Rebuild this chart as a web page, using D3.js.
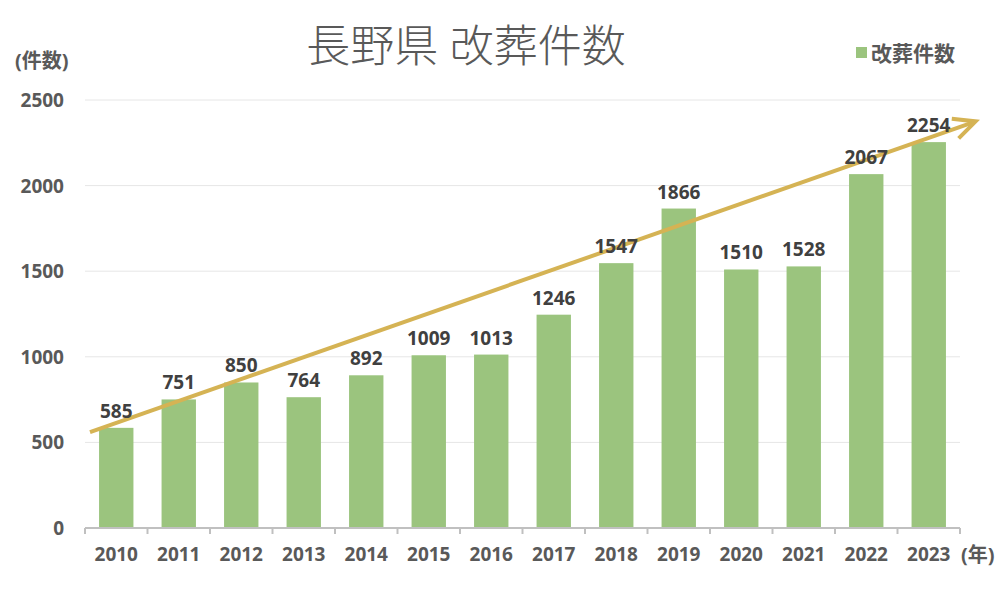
<!DOCTYPE html>
<html>
<head>
<meta charset="utf-8">
<script src="https://cdn.jsdelivr.net/npm/d3@7"></script>
<style>
  body { margin: 0; background: #fff; }
  text { font-family: "Noto Sans", "Noto Sans CJK JP", sans-serif; }
</style>
</head>
<body>
<svg id="chart" width="1000" height="600"></svg>
<script>
const years = ['2010', '2011', '2012', '2013', '2014', '2015', '2016',
               '2017', '2018', '2019', '2020', '2021', '2022', '2023'];
const counts = [585, 751, 850, 764, 892, 1009, 1013, 1246, 1547, 1866, 1510, 1528, 2067, 2254];
const yTicks = [0, 500, 1000, 1500, 2000, 2500];
// trend arrow: [band position, value]
const trendStart = [0.08, 560];
const trendEnd = [14.25, 2375];

const svg = d3.select('#chart');

const x = d3.scaleBand()
  .domain(years)
  .range([85, 960])
  .paddingInner(0.45)
  .paddingOuter(0.225);

// same range as the bands, by position
const xPos = d3.scaleLinear()
  .domain([0, years.length])
  .range([85, 960]);

const y = d3.scaleLinear()
  .domain([0, 2500])
  .range([528, 100]);

// grid lines
svg.append('g')
  .selectAll('line')
  .data(yTicks.slice(1))
  .join('line')
  .attr('x1', 85)
  .attr('x2', 960)
  .attr('y1', d => y(d))
  .attr('y2', d => y(d))
  .attr('stroke', '#e6e6e6')
  .attr('stroke-width', 1)

// y tick labels
svg.append('g')
  .selectAll('text')
  .data(yTicks)
  .join('text')
  .attr('x', 64)
  .attr('y', d => y(d) + 7)
  .attr('text-anchor', 'end')
  .attr('font-size', 19)
  .attr('font-weight', 'bold')
  .attr('fill', '#595959')
  .text(d => d)

// bars
svg.append('g')
  .selectAll('rect')
  .data(counts)
  .join('rect')
  .attr('x', (d, i) => x(years[i]))
  .attr('y', d => y(d))
  .attr('width', x.bandwidth())
  .attr('height', d => y(0) - y(d))
  .attr('fill', '#9bc47e')

// x axis
const xAxis = d3.axisBottom(x).tickSize(0).tickPadding(20);
const gx = svg.append('g')
  .attr('transform', `translate(0, ${y(0)})`)
  .call(xAxis);
gx.select('.domain').remove();
gx.append('line')
  .attr('x1', 85).attr('x2', 960)
  .attr('stroke', '#c0c0c0').attr('stroke-width', 2)
gx.selectAll('.sep')
  .data(d3.range(years.length + 1))
  .join('line')
  .attr('class', 'sep')
  .attr('x1', d => xPos(d)).attr('x2', d => xPos(d))
  .attr('y1', 0).attr('y2', 6)
  .attr('stroke', '#c0c0c0').attr('stroke-width', 2)
gx.selectAll('.tick text')
  .attr('font-size', 19)
  .attr('font-weight', 'bold')
  .attr('fill', '#595959')
  .attr('font-family', '"Noto Sans", sans-serif')

// trend arrow
const ax1 = xPos(trendStart[0]), ay1 = y(trendStart[1]);
const ax2 = xPos(trendEnd[0]), ay2 = y(trendEnd[1]);
const ang = Math.atan2(ay2 - ay1, ax2 - ax1);
const headLen = 24, headAng = Math.PI / 7;
svg.append('line')
  .attr('x1', ax1).attr('y1', ay1)
  .attr('x2', ax2 - 2 * Math.cos(ang)).attr('y2', ay2 - 2 * Math.sin(ang))
  .attr('stroke', '#d5b354').attr('stroke-width', 4)
svg.append('polyline')
  .attr('points', [
    [ax2 - headLen * Math.cos(ang - headAng), ay2 - headLen * Math.sin(ang - headAng)],
    [ax2, ay2],
    [ax2 - headLen * Math.cos(ang + headAng), ay2 - headLen * Math.sin(ang + headAng)]
  ].map(p => p.join(',')).join(' '))
  .attr('fill', 'none')
  .attr('stroke', '#d5b354').attr('stroke-width', 4)
  .attr('stroke-linejoin', 'miter')

// value labels (drawn over the arrow)
svg.append('g')
  .selectAll('text')
  .data(counts)
  .join('text')
  .attr('x', (d, i) => x(years[i]) + x.bandwidth() / 2)
  .attr('y', d => y(d) - 10)
  .attr('text-anchor', 'middle')
  .attr('font-size', 19)
  .attr('font-weight', 'bold')
  .attr('fill', '#404040')
  .text(d => d)

// title
svg.append('text')
  .attr('x', 466)
  .attr('y', 62)
  .attr('text-anchor', 'middle')
  .attr('font-size', 44)
  .attr('font-weight', 300)
  .attr('fill', '#595959')
  .attr('font-family', '"Noto Sans CJK JP", sans-serif')
  .text('長野県 改葬件数')

// axis units
svg.append('text')
  .attr('x', 15).attr('y', 68)
  .attr('font-size', 20).attr('font-weight', 'bold').attr('fill', '#595959')
  .attr('font-family', '"Noto Sans CJK JP", sans-serif')
  .text('(件数)')
svg.append('text')
  .attr('x', 961).attr('y', 562)
  .attr('font-size', 20).attr('font-weight', 'bold').attr('fill', '#595959')
  .attr('font-family', '"Noto Sans CJK JP", sans-serif')
  .text('(年)')

// legend
svg.append('rect')
  .attr('x', 856).attr('y', 47)
  .attr('width', 11).attr('height', 11)
  .attr('fill', '#9bc47e')
svg.append('text')
  .attr('x', 871).attr('y', 61)
  .attr('font-size', 21).attr('font-weight', 'bold').attr('fill', '#595959')
  .attr('font-family', '"Noto Sans CJK JP", sans-serif')
  .text('改葬件数')
</script>
</body>
</html>
